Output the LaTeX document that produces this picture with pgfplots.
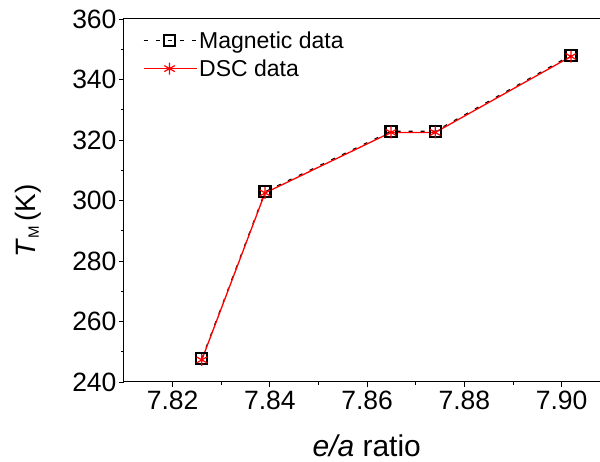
\documentclass[border=0pt]{standalone}
\usepackage{pgfplots}
\pgfplotsset{compat=1.18}
\usepackage{fontspec}
\setmainfont{Liberation Sans}
\begin{document}
\begin{tikzpicture}
\begin{axis}[
  at={(0,0)}, anchor=south west,
  scale only axis, width=479pt, height=363pt,
  xmin=7.81, xmax=7.9085, ymin=240, ymax=360,
  xtick={7.82,7.84,7.86,7.88,7.90},
  xticklabels={7.82,7.84,7.86,7.88,7.90},
  ytick={240,260,280,300,320,340,360},
  minor x tick num=1, minor y tick num=1,
  tick align=outside, tick pos=left,
  major tick length=5pt, minor tick length=3pt,
  every tick/.style={black, line width=0.9pt},
  axis line style={line width=1pt},
  tick label style={font=\fontsize{26.5}{30}\selectfont},
  yticklabel style={xshift=1pt},
  /pgf/number format/assume math mode=true,
  xlabel={\textit{e/a} ratio},
  ylabel={\textit{T}\raisebox{-3.5pt}{\fontsize{15}{15}\selectfont M}\,(K)},
  xlabel style={font=\fontsize{30}{34}\selectfont, inner sep=0pt, at={(axis description cs:0.5067,-0.175)}, anchor=center},
  ylabel style={font=\fontsize{28}{32}\selectfont, at={(axis description cs:-0.2004,0.4435)}, anchor=center},
  legend cell align=left,
  legend style={draw=none, fill=none, at={(axis description cs:0.039,0.972)}, anchor=north west,
    inner sep=0pt, font=\fontsize{23}{27}\selectfont, nodes={inner sep=2pt}, row sep=6pt,
    /tikz/every even column/.append style={column sep=5pt}},
  legend image code/.code={\draw[mark repeat=2,mark phase=2,#1] plot coordinates {(0pt,0pt) (26pt,0pt) (53pt,0pt)};},
]
\addplot[black, line width=1.1pt, dash pattern=on 4pt off 8pt, mark=square, mark size=5.5pt,
  mark options={solid, line width=2.2pt}] coordinates {
  (7.8260,247.7) (7.8390,302.9) (7.8649,322.9) (7.8740,322.9) (7.9019,348.0)
};
\addlegendentry{Magnetic data}
\addplot[red, line width=1.3pt, mark=asterisk, mark size=6pt,
  mark options={solid, line width=1.2pt}] coordinates {
  (7.8260,247.3) (7.8390,302.5) (7.8649,322.5) (7.8740,322.5) (7.9019,347.6)
};
\addlegendentry{DSC data}
\end{axis}
\pgfresetboundingbox
\path (-124pt,-80pt) rectangle (476pt,382pt);
\end{tikzpicture}
\end{document}
